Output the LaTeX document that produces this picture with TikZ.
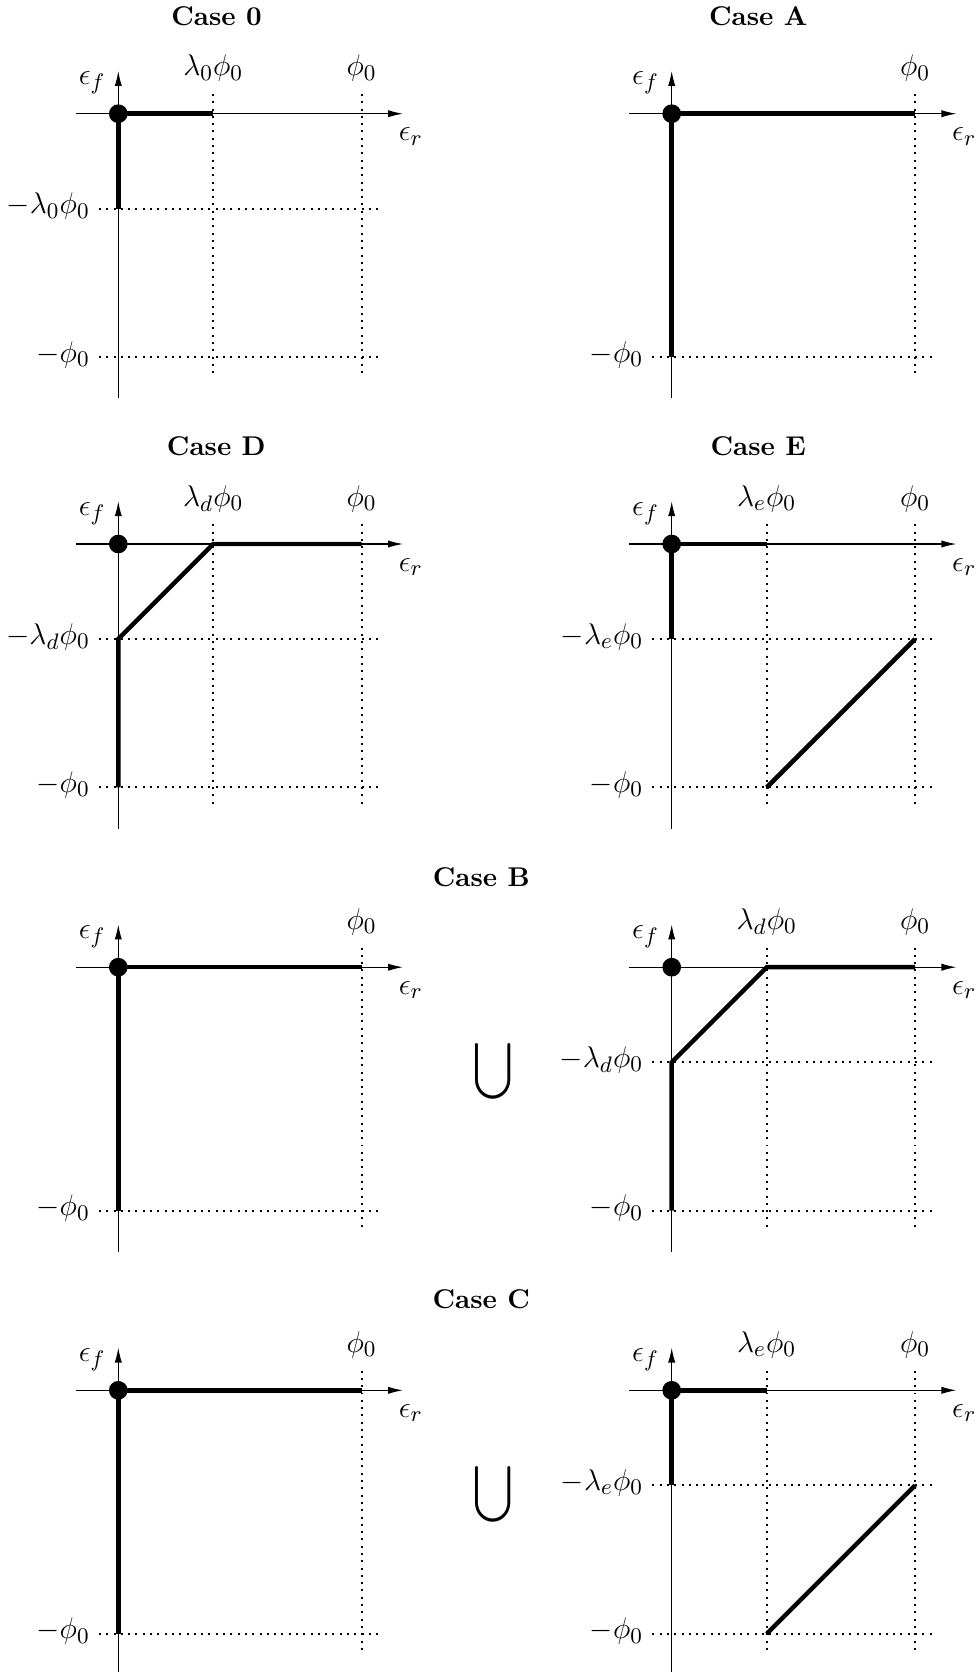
\documentclass[tikz,border=0pt]{standalone}
\usepackage{graphicx}
\usetikzlibrary{arrows.meta}
\tikzset{
  axisline/.style={line width=0.45pt, -{Latex[length=6pt,width=2.9pt]}},
  dotline/.style={line width=0.8pt, dash pattern=on 0.8pt off 2.13pt},
  thickline/.style={line width=1.8pt},
  lab/.style={inner sep=0pt, font=\fontsize{12.9}{15}\selectfont},
  ttl/.style={inner sep=0pt, font=\fontsize{10.9}{13}\selectfont\bfseries, anchor=base},
  origindot/.style={circle, fill, inner sep=0pt, minimum size=7.5pt},
  unionsym/.style={inner sep=0pt},
}
\def\P{243.4}
\def\L{95}
% axes and axis labels of one panel
\newcommand{\myframeaxes}[1]{%
  \draw[axisline] (-42.3,0) -- (284.7,0);
  \draw[axisline] (0,284.6) -- (0,-42.7);
  \node[lab, anchor=base east] (#1ef) at (-12.3,-29) {$\epsilon_f$};
  \node[lab, anchor=base west] (#1er) at (280,27) {$\epsilon_r$};
}
\newcommand{\myodot}[1]{\node[origindot] (#1o) at (0,0) {};}
\newcommand{\myvdots}[1]{\draw[dotline] (#1,-19.7) -- (#1,264.3);}
\newcommand{\myhdots}[1]{\draw[dotline] (-19.3,#1) -- (264.7,#1);}
\newcommand{\mytoplab}[3]{\node[lab, anchor=base] (#1) at (#2,-38) {$#3$};}
\newcommand{\myleftlab}[3]{\node[lab, anchor=base east] (#1) at (-28,{#2+5}) {$#3$};}
\newcommand{\myunion}{\scalebox{1.42}[1.6]{$\displaystyle\bigcup$}}
\begin{document}
\begin{tikzpicture}[x=0.4016pt, y=-0.4016pt]
\path[use as bounding box] (0,0) rectangle (979,1672);

% titles
\node[ttl] (t0) at (216.5,25) {Case 0};
\node[ttl] (tA) at (758.3,25) {Case A};
\node[ttl] (tD) at (216.3,455) {Case D};
\node[ttl] (tE) at (758.3,455) {Case E};
\node[ttl] (tB) at (481.3,886) {Case B};
\node[ttl] (tC) at (481.3,1308.4) {Case C};

% unions
\node[unionsym] (uB) at (493.3,1071.3) {\myunion};
\node[unionsym] (uC) at (493.3,1494.6) {\myunion};

% Case 0
\begin{scope}[shift={(118.3,113.7)}]
  \myvdots{\L} \myvdots{\P} \myhdots{\L} \myhdots{\P}
  \myframeaxes{a}
  \mytoplab{a1}{\L}{\lambda_0\phi_0} \mytoplab{a2}{\P}{\phi_0}
  \myleftlab{a3}{\L}{-\lambda_0\phi_0} \myleftlab{a4}{\P}{-\phi_0}
  \draw[thickline] (\L,0) -- (0,0) -- (0,\L);
  \myodot{a}
\end{scope}

% Case A
\begin{scope}[shift={(671.7,113.7)}]
  \myvdots{\P} \myhdots{\P}
  \myframeaxes{b}
  \mytoplab{b2}{\P}{\phi_0}
  \myleftlab{b4}{\P}{-\phi_0}
  \draw[thickline] (\P,0) -- (0,0) -- (0,\P);
  \myodot{b}
\end{scope}

% Case D
\begin{scope}[shift={(118.3,544)}]
  \myvdots{\L} \myvdots{\P} \myhdots{\L} \myhdots{\P}
  \myframeaxes{c}
  \mytoplab{c1}{\L}{\lambda_d\phi_0} \mytoplab{c2}{\P}{\phi_0}
  \myleftlab{c3}{\L}{-\lambda_d\phi_0} \myleftlab{c4}{\P}{-\phi_0}
  \draw[thickline] (0,\P) -- (0,\L) -- (\L,0) -- (\P,0);
  \myodot{c}
\end{scope}

% Case E
\begin{scope}[shift={(671.7,544)}]
  \myvdots{\L} \myvdots{\P} \myhdots{\L} \myhdots{\P}
  \myframeaxes{d}
  \mytoplab{d1}{\L}{\lambda_e\phi_0} \mytoplab{d2}{\P}{\phi_0}
  \myleftlab{d3}{\L}{-\lambda_e\phi_0} \myleftlab{d4}{\P}{-\phi_0}
  \draw[thickline] (\L,0) -- (0,0) -- (0,\L);
  \draw[thickline] (\L,\P) -- (\P,\L);
  \myodot{d}
\end{scope}

% Case B left
\begin{scope}[shift={(118.3,967.2)}]
  \myvdots{\P} \myhdots{\P}
  \myframeaxes{e}
  \mytoplab{e2}{\P}{\phi_0}
  \myleftlab{e4}{\P}{-\phi_0}
  \draw[thickline] (\P,0) -- (0,0) -- (0,\P);
  \myodot{e}
\end{scope}

% Case B right
\begin{scope}[shift={(671.7,967.2)}]
  \myvdots{\L} \myvdots{\P} \myhdots{\L} \myhdots{\P}
  \myframeaxes{f}
  \mytoplab{f1}{\L}{\lambda_d\phi_0} \mytoplab{f2}{\P}{\phi_0}
  \myleftlab{f3}{\L}{-\lambda_d\phi_0} \myleftlab{f4}{\P}{-\phi_0}
  \draw[thickline] (0,\P) -- (0,\L) -- (\L,0) -- (\P,0);
  \myodot{f}
\end{scope}

% Case C left
\begin{scope}[shift={(118.3,1390.3)}]
  \myvdots{\P} \myhdots{\P}
  \myframeaxes{g}
  \mytoplab{g2}{\P}{\phi_0}
  \myleftlab{g4}{\P}{-\phi_0}
  \draw[thickline] (\P,0) -- (0,0) -- (0,\P);
  \myodot{g}
\end{scope}

% Case C right
\begin{scope}[shift={(671.7,1390.3)}]
  \myvdots{\L} \myvdots{\P} \myhdots{\L} \myhdots{\P}
  \myframeaxes{h}
  \mytoplab{h1}{\L}{\lambda_e\phi_0} \mytoplab{h2}{\P}{\phi_0}
  \myleftlab{h3}{\L}{-\lambda_e\phi_0} \myleftlab{h4}{\P}{-\phi_0}
  \draw[thickline] (\L,0) -- (0,0) -- (0,\L);
  \draw[thickline] (\L,\P) -- (\P,\L);
  \myodot{h}
\end{scope}
\end{tikzpicture}
\end{document}
